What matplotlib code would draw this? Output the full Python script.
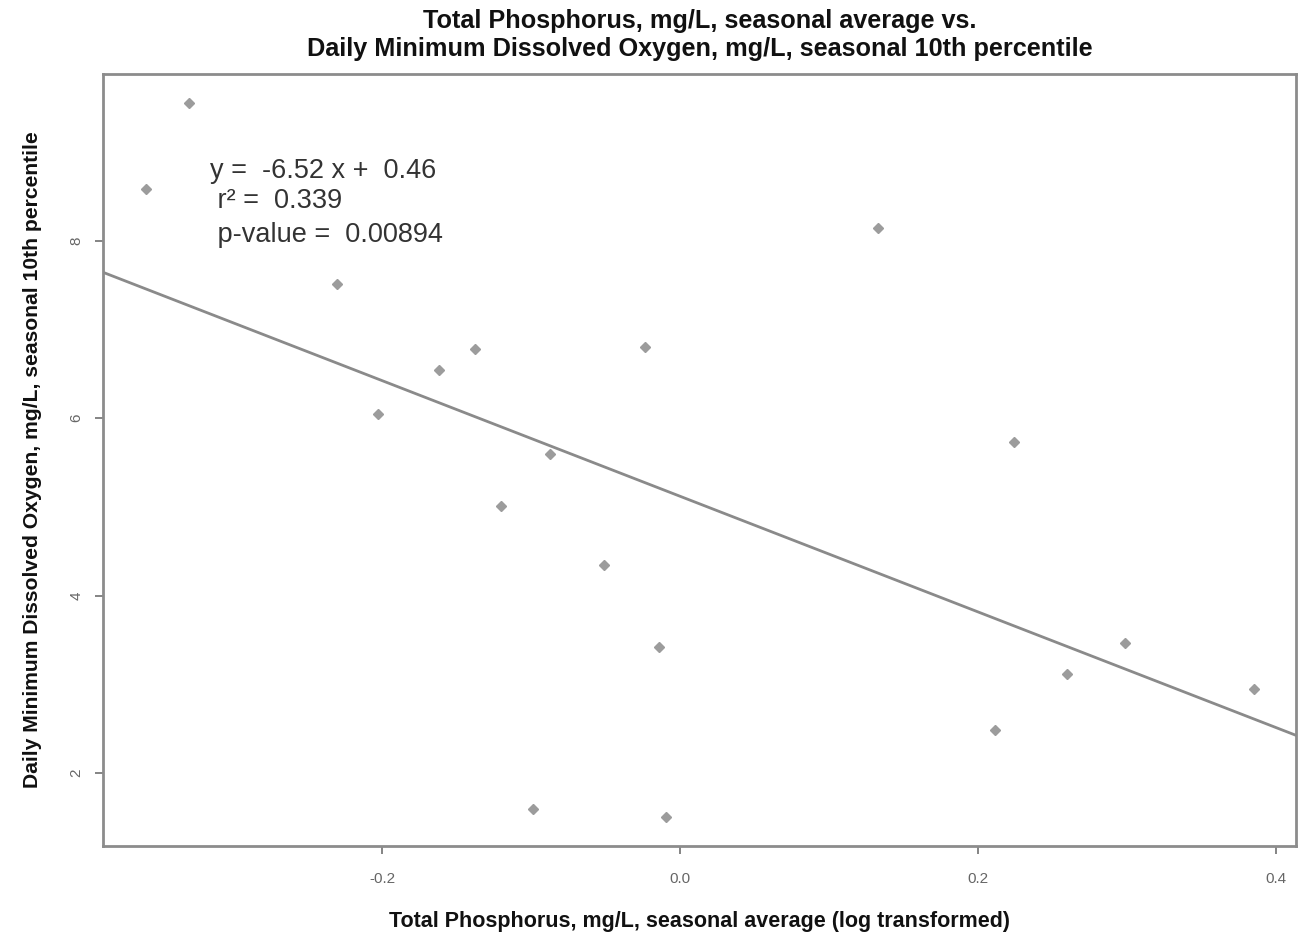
import numpy as np
import matplotlib
matplotlib.use("Agg")
import matplotlib.pyplot as plt

# ---- data ----
tp_log = [-0.3584, -0.3295, -0.2302, -0.2027, -0.1617, -0.1376, -0.1201,
          -0.0873, -0.0987, -0.0510, -0.0235, -0.0141, -0.0094,
          0.1329, 0.2114, 0.2242, 0.2597, 0.2987, 0.3852]
do_p10 = [8.586, 9.556, 7.514, 6.049, 6.545, 6.782, 5.011,
          5.598, 1.594, 4.346, 6.804, 3.421, 1.504,
          8.146, 2.485, 5.733, 3.117, 3.466, 2.947]

fit_slope = -6.52
fit_intercept = 5.12

eq_lines = ["y =  -6.52 x +  0.46", " r\u00b2 =  0.339", " p-value =  0.00894"]

x_ticks = [-0.2, 0.0, 0.2, 0.4]
x_ticklabels = ["-0.2", "0.0", "0.2", "0.4"]
y_ticks = [2, 4, 6, 8]
y_ticklabels = ["2", "4", "6", "8"]

title = ("Total Phosphorus, mg/L, seasonal average vs.\n"
         "Daily Minimum Dissolved Oxygen, mg/L, seasonal 10th percentile")
xlabel = "Total Phosphorus, mg/L, seasonal average (log transformed)"
ylabel = "Daily Minimum Dissolved Oxygen, mg/L, seasonal 10th percentile"

# ---- figure ----
plt.rcParams['font.family'] = ['Liberation Sans', 'DejaVu Sans']

fig = plt.figure(figsize=(12.98, 9.38), dpi=100)
ax = fig.add_axes([103/1298, 1 - 846/938, (1296 - 103)/1298, (846 - 74)/938])

axis_grey = '#8c8c8c'
ax.set_xlim(-0.3872, 0.4134)
ax.set_ylim(1.177, 9.88)

# regression line
xl = np.array(ax.get_xlim())
ax.plot(xl, fit_intercept + fit_slope * xl, color='#8a8a8a', lw=2.0, zorder=2)

# points
ax.plot(tp_log, do_p10, linestyle='none', marker='D', markersize=5.2,
        color='#9c9c9c', markeredgecolor='#9c9c9c', zorder=3)

# annotation
ax.text(0.0897, 0.875, eq_lines[0], transform=ax.transAxes, ha='left', va='center',
        fontsize=19.5, color='#333333')
ax.text(0.0897, 0.835, eq_lines[1], transform=ax.transAxes, ha='left', va='center',
        fontsize=19.5, color='#333333')
ax.text(0.0897, 0.792, eq_lines[2], transform=ax.transAxes, ha='left', va='center',
        fontsize=19.5, color='#333333')

# axes styling
for s in ax.spines.values():
    s.set_color(axis_grey)
    s.set_linewidth(2.0)

ax.set_xticks(x_ticks)
ax.set_xticklabels(x_ticklabels)
ax.set_yticks(y_ticks)
ax.set_yticklabels(y_ticklabels, rotation=90, va='center')
ax.tick_params(axis='both', direction='out', length=6, width=1.2, color='#707070',
               labelsize=11, labelcolor='#666666')
ax.tick_params(axis='x', pad=13)
ax.tick_params(axis='y', pad=8)

ax.set_xlabel(xlabel, fontsize=15.5, fontweight='bold', color='#111111', labelpad=17.5)
ax.set_ylabel(ylabel, fontsize=15.2, fontweight='bold', color='#111111', labelpad=20)
ax.set_title(title, fontsize=18.2, fontweight='bold', color='#111111', pad=13,
             linespacing=1.2)

fig.savefig("out.png", dpi=100, facecolor='white')
